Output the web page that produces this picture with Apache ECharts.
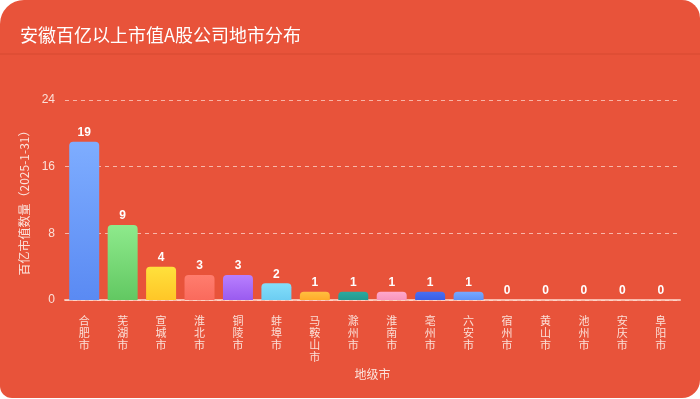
<!DOCTYPE html>
<html lang="zh">
  <head>
    <meta charset="UTF-8" />
    <title>安徽百亿以上市值A股公司地市分布</title>
    <script src="https://cdn.jsdelivr.net/npm/echarts@6/dist/echarts.min.js"></script>
    <style>
      html, body { margin: 0; padding: 0; background: #ffffff; }
    </style>
  </head>
  <body>
    <div id="main" style="width: 700px; height: 399px"></div>
    <script type="text/javascript">
      const cities = ["合肥市", "芜湖市", "宣城市", "淮北市", "铜陵市", "蚌埠市", "马鞍山市", "滁州市",
        "淮南市", "亳州市", "六安市", "宿州市", "黄山市", "池州市", "安庆市", "阜阳市"];
      const counts = [19, 9, 4, 3, 3, 2, 1, 1, 1, 1, 1, 0, 0, 0, 0, 0];
      const barTop = ["#7eadff", "#8eea8c", "#ffe13c", "#ff7d6e", "#b87fff", "#84defa", "#ffbe40", "#2ca99f",
        "#ffa8cc", "#4a6ff2", "#78a9ff", "#999", "#999", "#999", "#999", "#999"];
      const barBottom = ["#5a8af3", "#62c862", "#ffc627", "#fa6a5c", "#9a5bef", "#6ccdf2", "#ffab2a", "#239a90",
        "#f895bd", "#3a5ee8", "#5f92f7", "#999", "#999", "#999", "#999", "#999"];
      const yTicks = [0, 8, 16, 24];

      let myChart = echarts.init(document.getElementById("main"));

      let options = {
        backgroundColor: "transparent",
        graphic: [
          {
            type: "rect",
            z: -10,
            shape: { x: 0, y: 0, width: 700, height: 398, r: [24, 18, 18, 12] },
            style: { fill: "#e8533a" },
          },
          {
            type: "line",
            z: -9,
            shape: { x1: 0, y1: 54, x2: 700, y2: 54 },
            style: { stroke: "rgba(120,20,0,0.14)", lineWidth: 1 },
          },
        ],
        title: {
          text: "安徽百亿以上市值A股公司地市分布",
          left: 15,
          top: 21,
          textStyle: { color: "#ffffff", fontSize: 18, fontWeight: "normal", fontFamily: "Noto Sans CJK SC" },
        },
        grid: { left: 65, right: 20, top: 100, bottom: 99 },
        xAxis: {
          type: "category",
          data: cities,
          name: "地级市",
          nameLocation: "middle",
          nameGap: 68,
          nameTextStyle: { color: "#fbe3dc", fontSize: 12, fontFamily: "Noto Sans CJK SC" },
          axisLine: { lineStyle: { color: "rgba(255,220,210,0.75)", width: 2 } },
          axisTick: { show: false },
          axisLabel: {
            interval: 0,
            color: "#fbe0d8",
            fontSize: 11,
            lineHeight: 12,
            margin: 15,
            fontFamily: "Noto Sans CJK SC",
            formatter: (v) => v.split("").join("\n"),
          },
        },
        yAxis: {
          type: "value",
          min: 0,
          max: 24,
          interval: 8,
          name: "百亿市值数量（2025-1-31）",
          nameLocation: "middle",
          nameGap: 17,
          nameTextStyle: { color: "#fbe3dc", fontSize: 12, fontFamily: "Noto Sans CJK SC" },
          axisLine: { show: false },
          axisTick: { show: false },
          axisLabel: {
            color: "#fbe0d8",
            fontSize: 12,
            margin: 10,
            formatter: (v) => (yTicks.includes(v) ? String(v) : ""),
          },
          splitLine: {
            lineStyle: { color: "rgba(255,225,215,0.7)", type: [4, 4], width: 1 },
          },
        },
        series: [
          {
            name: "百亿市值数量",
            type: "bar",
            barWidth: "78%",
            data: counts.map((v, i) => ({
              value: v,
              itemStyle: {
                color: new echarts.graphic.LinearGradient(0, 0, 0, 1, [
                  { offset: 0, color: barTop[i] },
                  { offset: 1, color: barBottom[i] },
                ]),
                borderRadius: [4, 4, 0, 0],
              },
            })),
            label: {
              show: true,
              position: "top",
              distance: 3,
              color: "#ffffff",
              fontSize: 12,
              fontWeight: "bold",
            },
          },
        ],
      };

      myChart.setOption(options);
    </script>
  </body>
</html>
